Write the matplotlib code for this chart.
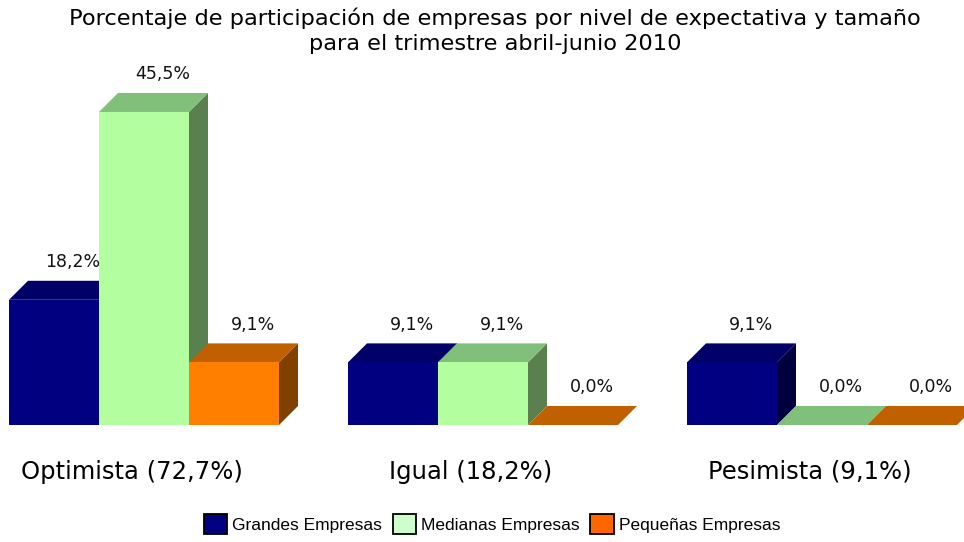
import matplotlib
matplotlib.use("Agg")
import matplotlib.pyplot as plt
from matplotlib.patches import Polygon, Rectangle

categories = ["Optimista (72,7%)", "Igual (18,2%)", "Pesimista (9,1%)"]
series_names = ["Grandes Empresas", "Medianas Empresas", "Pequeñas Empresas"]
grandes = [18.2, 9.1, 9.1]
medianas = [45.5, 9.1, 0.0]
pequenas = [9.1, 0.0, 0.0]
values = [grandes, medianas, pequenas]

front_colors = ["#000080", "#B3FFA0", "#FF8000"]
top_colors = ["#000066", "#80C07A", "#C06000"]
side_colors = ["#00003F", "#5A8050", "#804000"]
legend_colors = ["#000080", "#CCFFCC", "#FF6600"]

W, H = 964, 542
fig = plt.figure(figsize=(W / 100, H / 100), dpi=100)
base_px = 425
ax = fig.add_axes([0, (H - base_px) / H, 1, base_px / H])
px_per_x = 339.0
px_per_y = 6.88
ax.set_xlim(-144 / px_per_x, (W - 144) / px_per_x)
ax.set_ylim(0, base_px / px_per_y)
ax.axis("off")

bw = 90 / px_per_x
dx = 19 / px_per_x
dy = 19 / px_per_y
offsets = [-bw, 0.0, bw]

for g in range(len(categories)):
    for s in range(3):
        v = values[s][g]
        x0 = g + offsets[s] - bw / 2
        x1 = x0 + bw
        # side face
        ax.add_patch(Polygon([(x1, 0), (x1 + dx, dy), (x1 + dx, v + dy), (x1, v)],
                             closed=True, facecolor=side_colors[s], edgecolor="none"))
        # top face
        ax.add_patch(Polygon([(x0, v), (x0 + dx, v + dy), (x1 + dx, v + dy), (x1, v)],
                             closed=True, facecolor=top_colors[s], edgecolor="none"))
        # front face
        ax.bar(x0, v, width=bw, align="edge", color=front_colors[s], edgecolor="none")
        ax.text(g + offsets[s] + dx * 1.0, v + dy + 2.7,
                f"{v:.1f}%".replace(".", ","), ha="center", va="center",
                fontsize=12.5, color="#111111", family="DejaVu Sans")
    ax.text(g - 0.036, -47 / px_per_y, categories[g], ha="center", va="center",
            fontsize=17.5, clip_on=False, family="DejaVu Sans")

fig.text(495 / W, 1 - 31 / H,
         "Porcentaje de participación de empresas por nivel de expectativa y tamaño\npara el trimestre abril-junio 2010",
         ha="center", va="center", fontsize=16.2, linespacing=1.3, family="DejaVu Sans")

handles = [Rectangle((0, 0), 1, 1, facecolor=c, edgecolor="black", linewidth=1.3)
           for c in legend_colors]
fig.legend(handles, series_names, loc="center", bbox_to_anchor=(492 / W, 1 - 524 / H),
           ncol=3, frameon=False, handlelength=1.35, handleheight=1.35, handletextpad=0.3,
           columnspacing=0.6, borderaxespad=0,
           prop={"family": "Liberation Sans", "size": 12.5})

fig.savefig("out.png", dpi=100)
